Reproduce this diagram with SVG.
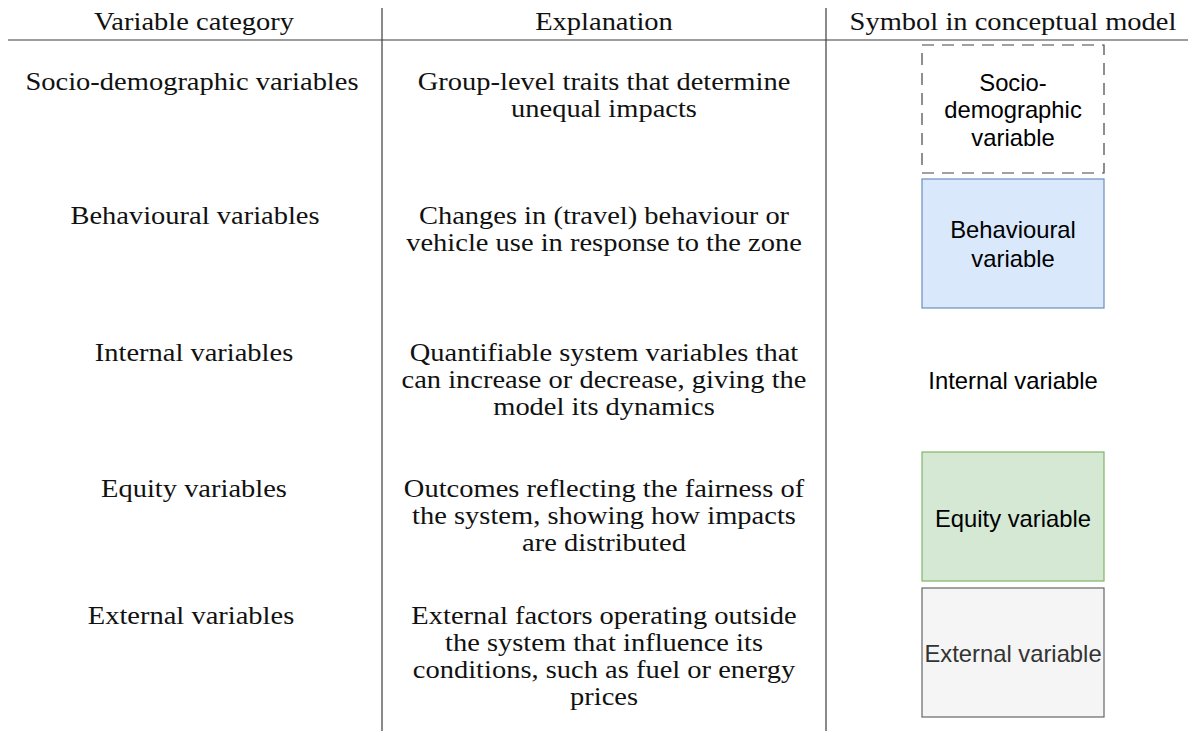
<svg xmlns="http://www.w3.org/2000/svg" width="1194" height="733" viewBox="0 0 1194 733">
  <style>
    .rule { stroke: #3c3c3c; stroke-width: 1.2; fill: none; }
    .tx { font-family: "Liberation Serif", "DejaVu Serif", serif; font-size: 25px; fill: #111; text-anchor: middle; }
    .lbl { font-family: "Liberation Sans", Arial, sans-serif; font-size: 23.8px; fill: #000; text-anchor: middle; }
  </style>
  <rect width="1194" height="733" fill="#ffffff"/>

  <!-- table rules -->
  <g id="rules">
    <line class="rule" x1="8" y1="40" x2="1188" y2="40"/>
    <line class="rule" x1="382" y1="8" x2="382" y2="731"/>
    <line class="rule" x1="826" y1="8" x2="826" y2="731"/>
  </g>

  <!-- header row (serif text widened to the table's face) -->
  <g id="header">
    <text class="tx" transform="translate(194,30) scale(1.14,1)">Variable category</text>
    <text class="tx" transform="translate(604,30) scale(1.14,1)">Explanation</text>
    <text class="tx" transform="translate(1013,30) scale(1.14,1)">Symbol in conceptual model</text>
  </g>

  <!-- row 1 -->
  <g id="row-socio">
    <g transform="translate(192,0) scale(1.14,1)">
      <text class="tx" x="0" y="90">Socio-demographic variables</text>
    </g>
    <g transform="translate(604,0) scale(1.14,1)">
      <text class="tx" x="0" y="90">Group-level traits that determine</text>
      <text class="tx" x="0" y="117">unequal impacts</text>
    </g>
  </g>
  <g id="sym-socio">
    <rect x="922" y="45" width="182" height="128" fill="#ffffff" stroke="#444" stroke-width="1.2" stroke-dasharray="12 8"/>
    <text class="lbl" x="1013" y="91">Socio-</text>
    <text class="lbl" x="1013" y="118">demographic</text>
    <text class="lbl" x="1013" y="146">variable</text>
  </g>

  <!-- row 2 -->
  <g id="row-behav">
    <g transform="translate(195,0) scale(1.14,1)">
      <text class="tx" x="0" y="224">Behavioural variables</text>
    </g>
    <g transform="translate(604,0) scale(1.14,1)">
      <text class="tx" x="0" y="224">Changes in (travel) behaviour or</text>
      <text class="tx" x="0" y="251">vehicle use in response to the zone</text>
    </g>
  </g>
  <g id="sym-behav">
    <rect x="922" y="179" width="182" height="129" fill="#dae8fc" stroke="#6c8ebf" stroke-width="1.2"/>
    <text class="lbl" x="1013" y="238">Behavioural</text>
    <text class="lbl" x="1013" y="267">variable</text>
  </g>

  <!-- row 3 -->
  <g id="row-internal">
    <g transform="translate(194,0) scale(1.14,1)">
      <text class="tx" x="0" y="361">Internal variables</text>
    </g>
    <g transform="translate(604,0) scale(1.14,1)">
      <text class="tx" x="0" y="361">Quantifiable system variables that</text>
      <text class="tx" x="0" y="388">can increase or decrease, giving the</text>
      <text class="tx" x="0" y="415">model its dynamics</text>
    </g>
  </g>
  <g id="sym-internal">
    <text class="lbl" x="1013" y="389">Internal variable</text>
  </g>

  <!-- row 4 -->
  <g id="row-equity">
    <g transform="translate(194,0) scale(1.14,1)">
      <text class="tx" x="0" y="497">Equity variables</text>
    </g>
    <g transform="translate(604,0) scale(1.14,1)">
      <text class="tx" x="0" y="497">Outcomes reflecting the fairness of</text>
      <text class="tx" x="0" y="524">the system, showing how impacts</text>
      <text class="tx" x="0" y="551">are distributed</text>
    </g>
  </g>
  <g id="sym-equity">
    <rect x="922" y="452" width="182" height="129" fill="#d5e8d4" stroke="#82b366" stroke-width="1.2"/>
    <text class="lbl" x="1013" y="527">Equity variable</text>
  </g>

  <!-- row 5 -->
  <g id="row-external">
    <g transform="translate(191,0) scale(1.14,1)">
      <text class="tx" x="0" y="624">External variables</text>
    </g>
    <g transform="translate(604,0) scale(1.14,1)">
      <text class="tx" x="0" y="624">External factors operating outside</text>
      <text class="tx" x="0" y="651">the system that influence its</text>
      <text class="tx" x="0" y="678">conditions, such as fuel or energy</text>
      <text class="tx" x="0" y="705">prices</text>
    </g>
  </g>
  <g id="sym-external">
    <rect x="922" y="588" width="182" height="129" fill="#f5f5f5" stroke="#666666" stroke-width="1.2"/>
    <text class="lbl" x="1013" y="662" style="fill:#333333">External variable</text>
  </g>
</svg>
